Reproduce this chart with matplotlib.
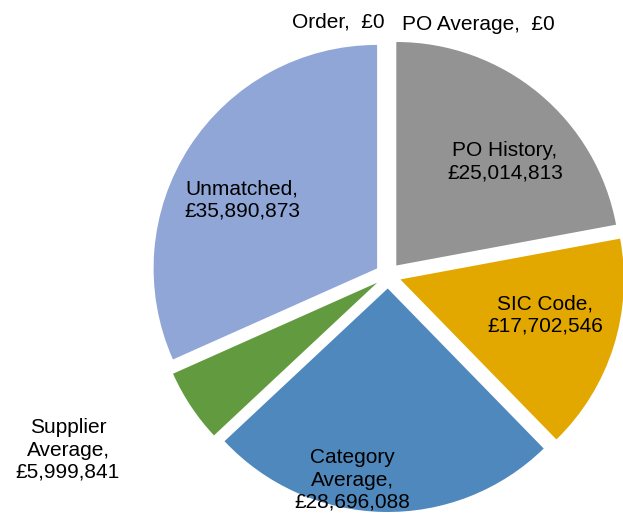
import matplotlib
matplotlib.use("Agg")
import matplotlib.pyplot as plt

categories = ["Order", "PO Average", "PO History", "SIC Code",
              "Category Average", "Supplier Average", "Unmatched"]
values = [0, 0, 25014813, 17702546, 28696088, 5999841, 35890873]
colors = ["#8FA6D6", "#939393", "#939393", "#E3A800",
          "#4F88BC", "#629B3F", "#8FA6D6"]
label_texts = ["Order,  £0", "PO Average,  £0", "PO History,\n£25,014,813",
               "SIC Code,\n£17,702,546", "Category\nAverage,\n£28,696,088",
               "Supplier\nAverage,\n£5,999,841", "Unmatched,\n£35,890,873"]
# label centres in pixel coordinates (x, y from top)
label_pos = [(338, 22), (478, 24), (505, 162), (545, 315),
             (352, 480), (68, 450), (242, 200)]

W, H = 623, 515
fig = plt.figure(figsize=(W / 100, H / 100), dpi=100)
ax = fig.add_axes([0, 0, 1, 1])

ax.pie(values, colors=colors, startangle=90, counterclock=False,
       explode=[13] * len(values), center=(388, H - 275.5),
       radius=223.5, wedgeprops=dict(linewidth=0), frame=True)
ax.set_xlim(0, W)
ax.set_ylim(0, H)
ax.set_aspect("equal")
ax.axis("off")

for txt, (x, y) in zip(label_texts, label_pos):
    ax.text(x, H - y, txt, ha="center", va="center", fontsize=15,
            family="Liberation Sans", linespacing=1.22, color="black")

fig.savefig("out.png", dpi=100)
